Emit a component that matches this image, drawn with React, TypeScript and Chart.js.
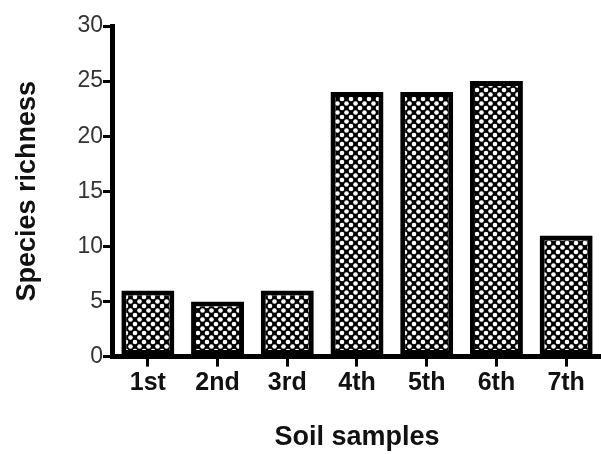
import React, { useEffect, useRef } from "react";
import { Chart, registerables } from "chart.js";

Chart.register(...registerables);

const categories = ["1st", "2nd", "3rd", "4th", "5th", "6th", "7th"];
const richness = [6, 5, 6, 24, 24, 25, 11];
const yTicks = [0, 5, 10, 15, 20, 25, 30];

function makePattern(ctx: CanvasRenderingContext2D): CanvasPattern | string {
  const c = document.createElement("canvas");
  c.width = 9;
  c.height = 9;
  const p = c.getContext("2d");
  if (!p) return "#000";
  p.fillStyle = "#000";
  p.fillRect(0, 0, 9, 9);
  p.fillStyle = "#fff";
  const dots = [
    [0, 0], [9, 0], [0, 9], [9, 9], [4.5, 4.5],
  ];
  for (const [x, y] of dots) {
    p.beginPath();
    p.arc(x, y, 2.3, 0, Math.PI * 2);
    p.fill();
  }
  return ctx.createPattern(c, "repeat") || "#000";
}

const FONT = "Liberation Sans, Arial, sans-serif";

export default function App() {
  const ref = useRef<HTMLCanvasElement | null>(null);
  useEffect(() => {
    document.body.style.margin = "0";
    const canvas = ref.current!;
    const ctx = canvas.getContext("2d")!;
    const pattern = makePattern(ctx);
    const chart = new Chart(ctx, {
      type: "bar",
      data: {
        labels: categories,
        datasets: [
          {
            data: richness,
            backgroundColor: pattern as any,
            borderColor: "#000",
            borderWidth: 5,
            borderSkipped: false,
            categoryPercentage: 0.76,
            barPercentage: 1,
          },
        ],
      },
      options: {
        animation: false,
        responsive: false,
        devicePixelRatio: 1,
        layout: { padding: { top: 26, right: 0, left: 11, bottom: 0 } },
        plugins: { legend: { display: false }, tooltip: { enabled: false } },
        scales: {
          x: {
            offset: true,
            grid: {
              offset: false,
              display: true,
              drawOnChartArea: false,
              drawTicks: true,
              tickLength: 10,
              lineWidth: 3,
              color: "#000",
            },
            border: { display: true, width: 5, color: "#000" },
            ticks: {
              color: "#111",
              padding: 2,
              font: { family: FONT, size: 25, weight: "bold" },
            },
            title: {
              display: true,
              text: "Soil samples",
              color: "#111",
              padding: { top: 21, bottom: 0 },
              font: { family: FONT, size: 27, weight: "bold" },
            },
          },
          y: {
            min: 0,
            max: 30,
            afterBuildTicks: (axis: any) => {
              axis.ticks = yTicks.map((v) => ({ value: v }));
            },
            grid: {
              display: true,
              drawOnChartArea: false,
              drawTicks: true,
              tickLength: 10,
              lineWidth: 3,
              color: "#000",
            },
            border: { display: true, width: 5, color: "#000" },
            ticks: {
              color: "#333",
              padding: 0,
              font: { family: FONT, size: 23 },
            },
            title: {
              display: true,
              text: "Species richness",
              color: "#111",
              padding: { top: 0, bottom: 34 },
              font: { family: FONT, size: 27, weight: "bold" },
            },
          },
        },
      },
    });
    return () => chart.destroy();
  }, []);
  return (
    <div style={{ position: "absolute", left: 0, top: 0, width: 601, height: 454, background: "#fff" }}>
      <canvas ref={ref} width={601} height={454} />
    </div>
  );
}
